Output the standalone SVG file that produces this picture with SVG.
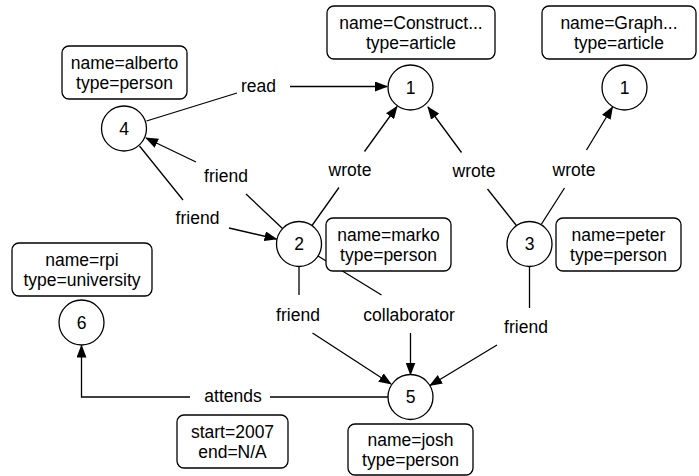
<svg xmlns="http://www.w3.org/2000/svg" width="699" height="476" viewBox="0 0 699 476">
<style>
text{font-family:"Liberation Sans",Arial,Helvetica,sans-serif;font-size:17.5px;fill:#000;text-anchor:middle}
.box{fill:#fff;stroke:#000;stroke-width:1.3}
.node{fill:#fff;stroke:#000;stroke-width:1.3}
.edge{fill:none;stroke:#000;stroke-width:1.3}
</style>
<defs>
<marker id="arr" markerUnits="userSpaceOnUse" markerWidth="13" markerHeight="10" viewBox="0 0 13 10" refX="12" refY="5" orient="auto">
<path d="M0,0 L13,5 L0,10 z" fill="#000"/>
</marker>
</defs>
<rect width="699" height="476" fill="#fff"/>

<g id="connectors">
<path class="edge" d="M146.5,121 L237,93 M290,86.5 L387,86.5" marker-end="url(#arr)"/>
<text x="258.5" y="92">read</text>
<path class="edge" d="M282.5,228.5 L246,194 M196,162 L146,138" marker-end="url(#arr)"/>
<text x="226" y="182">friend</text>
<path class="edge" d="M139.5,146 L183,200 M229,228 L276.5,239" marker-end="url(#arr)"/>
<text x="197.5" y="224">friend</text>
<path class="edge" d="M312,225.5 L339,187.5 M364.5,151.5 L397,106.5" marker-end="url(#arr)"/>
<text x="350" y="176">wrote</text>
<path class="edge" d="M516,225 L487.5,189 M461.5,152.5 L428,107" marker-end="url(#arr)"/>
<text x="474" y="177">wrote</text>
<path class="edge" d="M541.5,224 L564.5,188 M586.5,150 L612.5,107" marker-end="url(#arr)"/>
<text x="574" y="176">wrote</text>
<path class="edge" d="M299,266.5 L299,295 M312.5,333 L391,384" marker-end="url(#arr)"/>
<text x="298" y="321">friend</text>
<path class="edge" d="M318,256 L381.5,295 M410.5,333 L410.5,374.5" marker-end="url(#arr)"/>
<text x="409" y="321">collaborator</text>
<path class="edge" d="M529.5,266.5 L529.5,308 M497,345 L430,385.5" marker-end="url(#arr)"/>
<text x="526" y="333">friend</text>
<path class="edge" d="M388,397 L270,397 M190,397 L81.5,397 L81.5,345.5" marker-end="url(#arr)"/>
<text x="233" y="402">attends</text>
</g>

<g id="node4">
<circle class="node" cx="124" cy="128.5" r="22.5"/>
<text x="124" y="134.5">4</text>
<rect class="box" x="62" y="46" width="125" height="53" rx="7"/>
<text x="124.5" y="68.5">name=alberto</text>
<text x="124.5" y="88.5">type=person</text>
</g>

<g id="node1a">
<circle class="node" cx="410.5" cy="87.5" r="22.5"/>
<text x="410.5" y="93.5">1</text>
<rect class="box" x="327" y="6" width="168" height="53" rx="7"/>
<text x="411" y="28.5">name=Construct...</text>
<text x="411" y="48.5">type=article</text>
</g>

<g id="node1b">
<circle class="node" cx="624.5" cy="87.5" r="22.5"/>
<text x="624.5" y="93.5">1</text>
<rect class="box" x="542" y="6" width="154" height="53" rx="7"/>
<text x="619" y="28.5">name=Graph...</text>
<text x="619" y="48.5">type=article</text>
</g>

<g id="node2">
<circle class="node" cx="299" cy="244" r="22.5"/>
<text x="299" y="250">2</text>
<rect class="box" x="326" y="218" width="125" height="53" rx="7"/>
<text x="388.5" y="240.5">name=marko</text>
<text x="388.5" y="260.5">type=person</text>
</g>

<g id="node3">
<circle class="node" cx="529.5" cy="244" r="22.5"/>
<text x="529.5" y="250">3</text>
<rect class="box" x="556" y="218" width="125" height="53" rx="7"/>
<text x="618.5" y="240.5">name=peter</text>
<text x="618.5" y="260.5">type=person</text>
</g>

<g id="node5">
<circle class="node" cx="410.5" cy="397" r="22.5"/>
<text x="410.5" y="403">5</text>
<rect class="box" x="348" y="424" width="125" height="51" rx="7"/>
<text x="410.5" y="445.5">name=josh</text>
<text x="410.5" y="465.5">type=person</text>
</g>

<g id="node6">
<circle class="node" cx="81.5" cy="322.5" r="22.5"/>
<text x="81.5" y="328.5">6</text>
<rect class="box" x="12" y="243" width="140" height="53" rx="7"/>
<text x="82" y="265.5">name=rpi</text>
<text x="82" y="285.5">type=university</text>
</g>

<g id="attends-props">
<rect class="box" x="177" y="415" width="111" height="53" rx="7"/>
<text x="232.5" y="437.5">start=2007</text>
<text x="232.5" y="457.5">end=N/A</text>
</g>
</svg>
